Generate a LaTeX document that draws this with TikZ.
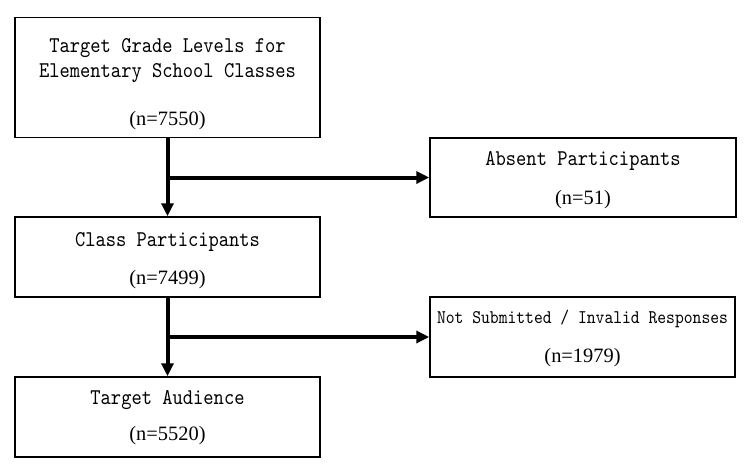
\documentclass[tikz,border=0pt]{standalone}
\usepackage{fontspec}
\setmainfont{Liberation Serif}
\newfontfamily\simmono[FakeStretch=0.87]{lmmono10-regular.otf}
\usetikzlibrary{arrows.meta}
\begin{document}
\begin{tikzpicture}[x=1pt,y=-1pt,
  box/.style={draw=black,line width=1.5pt,fill=white,inner sep=0pt},
  mtxt/.style={inner sep=0pt,anchor=base,font=\simmono\fontsize{22.5}{26}\selectfont},
  stxt/.style={inner sep=0pt,anchor=base,font=\simmono\fontsize{19.3}{22}\selectfont},
  ntxt/.style={inner sep=0pt,anchor=base,font=\fontsize{20.4}{24}\selectfont},
  flow/.style={line width=4pt,-{Triangle[length=13pt,width=12pt]}}]
\useasboundingbox (0,0) rectangle (750,475);
% boxes
\node[box,minimum width=305pt,minimum height=120pt] (b1) at (167.5,77.5) {};
\node[box,minimum width=306pt,minimum height=79pt] (b2) at (583,177.5) {};
\node[box,minimum width=305pt,minimum height=80pt] (b3) at (167.5,257) {};
\node[box,minimum width=305pt,minimum height=80pt] (b4) at (582.5,337) {};
\node[box,minimum width=305pt,minimum height=80pt] (b5) at (167.5,417) {};
% texts
\node[mtxt] (t1a) at (167.5,52) {Target Grade Levels for};
\node[mtxt] (t1b) at (167.5,77.5) {Elementary School Classes};
\node[ntxt] (t1c) at (167.5,125) {(n=7550)};
\node[mtxt] (t2a) at (583,165) {Absent Participants};
\node[ntxt] (t2b) at (583,204) {(n=51)};
\node[mtxt] (t3a) at (167.5,246) {Class Participants};
\node[ntxt] (t3b) at (167.5,284) {(n=7499)};
\node[stxt] (t4a) at (582.5,323) {Not Submitted / Invalid Responses};
\node[ntxt] (t4b) at (582.5,362) {(n=1979)};
\node[mtxt] (t5a) at (167.5,404) {Target Audience};
\node[ntxt] (t5b) at (167.5,440) {(n=5520)};
% connectors
\coordinate (j1) at (b1.south |- b2.west);
\coordinate (j2) at (b3.south |- b4.west);
\draw[flow] (b1.south) -- (b3.north);
\draw[flow] (j1) -- (b2.west);
\draw[flow] (b3.south) -- (b5.north);
\draw[flow] (j2) -- (b4.west);
\end{tikzpicture}
\end{document}
